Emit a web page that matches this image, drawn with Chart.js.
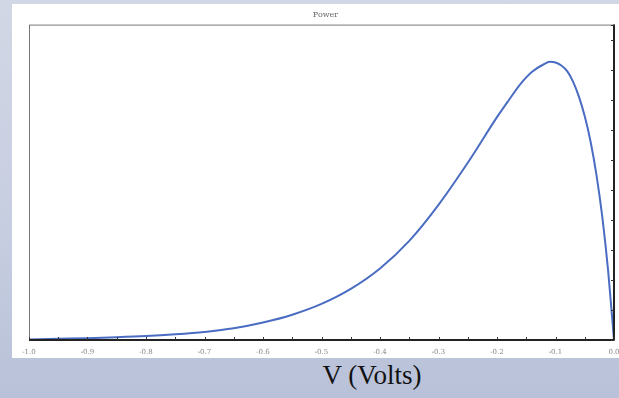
<!DOCTYPE html>
<html>
<head>
    <title>Power</title>
    <script src="https://cdn.jsdelivr.net/npm/chart.js@4.4.0/dist/chart.umd.min.js"></script>
    <style>
        body {
            margin: 0;
            width: 619px;
            height: 398px;
            overflow: hidden;
            background: linear-gradient(180deg, #d2d7e5 0%, #c6cde0 60%, #b8c1d8 100%);
            font-family: "DejaVu Serif", serif;
            position: relative;
        }
        .panel {
            position: absolute;
            left: 12px;
            top: 4px;
            width: 607px;
            height: 354px;
            background: #ffffff;
        }
        .xlabel {
            position: absolute;
            left: 0;
            width: 744px;
            top: 360px;
            text-align: center;
            font-family: "Liberation Serif", serif;
            font-size: 27px;
            color: #111;
        }
    </style>
</head>
<body>
    <div class="panel"><canvas id="powerChart" width="615" height="354"></canvas></div>
    <div class="xlabel">V (Volts)</div>

    <script>
        // Voltage (V) and power
        const voltage = [-1.0, -0.95, -0.9, -0.85, -0.8, -0.75, -0.7, -0.65, -0.6, -0.55, -0.5, -0.45, -0.4, -0.35,
                         -0.3, -0.25, -0.2, -0.18, -0.16, -0.14, -0.12, -0.11, -0.1, -0.09, -0.08, -0.07,
                         -0.06, -0.05, -0.04, -0.03, -0.02, -0.01, 0.0];
        const power = [0.02, 0.04, 0.06, 0.09, 0.13, 0.19, 0.27, 0.39, 0.58, 0.84, 1.20, 1.70, 2.38, 3.30,
                       4.50, 5.90, 7.42, 7.98, 8.52, 8.93, 9.18, 9.26, 9.24, 9.14, 8.95, 8.60,
                       8.10, 7.45, 6.60, 5.50, 4.10, 2.30, 0.0];
        const xTickLabels = ['-1.0', '-0.9', '-0.8', '-0.7', '-0.6', '-0.5', '-0.4', '-0.3', '-0.2', '-0.1', '0.0'];

        const points = voltage.map((v, i) => ({ x: v, y: power[i] }));

        // frame + inward tick marks
        const framePlugin = {
            id: 'frame',
            afterDraw(chart) {
                const { ctx, chartArea: a, scales } = chart;
                ctx.save();
                ctx.strokeStyle = '#777';
                ctx.lineWidth = 1;
                ctx.strokeRect(a.left + 0.5, a.top + 0.5, a.right - a.left, a.bottom - a.top);
                ctx.strokeStyle = '#222';
                ctx.lineWidth = 2;
                ctx.beginPath();
                ctx.moveTo(a.right, a.top);
                ctx.lineTo(a.right, a.bottom);
                ctx.moveTo(a.left, a.bottom);
                ctx.lineTo(a.right, a.bottom);
                ctx.stroke();
                ctx.lineWidth = 1;
                ctx.strokeStyle = '#333';
                ctx.beginPath();
                scales.x.ticks.forEach(t => {
                    const px = Math.round(scales.x.getPixelForValue(t.value)) + 0.5;
                    ctx.moveTo(px, a.bottom);
                    ctx.lineTo(px, a.bottom - 3);
                });
                scales.y.ticks.forEach(t => {
                    const py = Math.round(scales.y.getPixelForValue(t.value)) + 0.5;
                    ctx.moveTo(a.right, py);
                    ctx.lineTo(a.right - 3, py);
                });
                ctx.stroke();
                ctx.restore();
            }
        };

        new Chart(document.getElementById('powerChart'), {
            type: 'line',
            data: {
                datasets: [{
                    label: 'Power',
                    data: points,
                    borderColor: '#4a6cc2',
                    borderWidth: 2,
                    pointRadius: 0,
                    fill: false,
                    cubicInterpolationMode: 'monotone'
                }]
            },
            options: {
                responsive: false,
                animation: false,
                layout: { padding: { left: 17, right: 5, top: 0, bottom: 2 } },
                scales: {
                    x: {
                        type: 'linear',
                        min: -1,
                        max: 0,
                        grid: { display: false },
                        border: { display: false },
                        afterFit: (scale) => { scale.height = 16; },
                        ticks: {
                            stepSize: 0.05,
                            autoSkip: false,
                            maxRotation: 0,
                            padding: 0,
                            color: '#888',
                            font: { family: 'DejaVu Serif', size: 7 },
                            callback: (v) => {
                                const k = Math.round(v * 100);
                                if (k % 10 !== 0) return '';
                                return xTickLabels[(k + 100) / 10];
                            }
                        }
                    },
                    y: {
                        position: 'right',
                        min: 0,
                        max: 10.5,
                        grid: { display: false },
                        border: { display: false },
                        ticks: { stepSize: 1, display: false }
                    }
                },
                plugins: {
                    legend: { display: false },
                    tooltip: { enabled: false },
                    title: {
                        display: true,
                        text: 'Power',
                        color: '#666',
                        font: { family: 'DejaVu Serif', size: 8, weight: 'normal' },
                        padding: { top: 6, bottom: 5 }
                    }
                }
            },
            plugins: [framePlugin]
        });
    </script>
</body>
</html>
